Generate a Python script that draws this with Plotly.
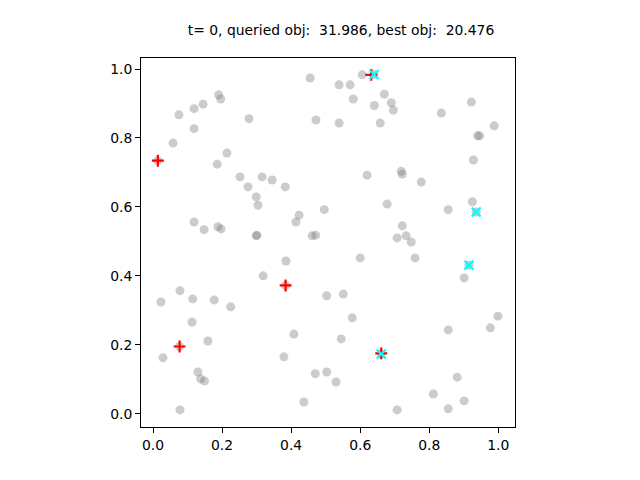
import plotly.graph_objects as go

# Sampled points (gray)
gray_x = [0.455, 0.190, 0.196, 0.145, 0.119, 0.075, 0.278, 0.472, 0.119, 0.058,
          0.214, 0.014, 0.186, 0.252, 0.316, 0.345, 0.275, 0.383, 0.299, 0.304,
          0.496, 0.423, 0.414, 0.119, 0.148, 0.188, 0.197, 0.299, 0.301, 0.461,
          0.471, 0.606, 0.640, 0.539, 0.571, 0.670, 0.580, 0.641, 0.690, 0.696,
          0.922, 0.835, 0.539, 0.658, 0.988, 0.940, 0.946, 0.928, 0.620, 0.719,
          0.722, 0.777, 0.925, 0.936, 0.678, 0.855, 0.722, 0.707, 0.733, 0.748,
          0.385, 0.319, 0.384, 0.078, 0.023, 0.115, 0.177, 0.225, 0.503, 0.113,
          0.408, 0.159, 0.077, 0.029, 0.379, 0.130, 0.138, 0.149, 0.470, 0.503,
          0.437, 0.078, 0.600, 0.759, 0.915, 0.901, 0.551, 0.577, 0.999, 0.977,
          0.855, 0.545, 0.661, 0.530, 0.881, 0.812, 0.901, 0.707, 0.855]
gray_y = [0.974, 0.925, 0.913, 0.898, 0.885, 0.867, 0.856, 0.852, 0.827, 0.785,
          0.756, 0.734, 0.724, 0.687, 0.687, 0.678, 0.658, 0.658, 0.629, 0.605,
          0.592, 0.576, 0.556, 0.556, 0.534, 0.542, 0.536, 0.516, 0.518, 0.516,
          0.518, 0.983, 0.984, 0.954, 0.954, 0.927, 0.913, 0.894, 0.902, 0.881,
          0.904, 0.872, 0.843, 0.843, 0.835, 0.806, 0.806, 0.736, 0.692, 0.703,
          0.695, 0.672, 0.615, 0.585, 0.608, 0.592, 0.545, 0.510, 0.516, 0.498,
          0.443, 0.400, 0.372, 0.357, 0.324, 0.333, 0.330, 0.310, 0.342, 0.266,
          0.231, 0.211, 0.195, 0.162, 0.165, 0.121, 0.101, 0.095, 0.116, 0.121,
          0.034, 0.011, 0.452, 0.452, 0.431, 0.394, 0.347, 0.278, 0.283, 0.249,
          0.243, 0.217, 0.173, 0.092, 0.106, 0.057, 0.037, 0.011, 0.014]

# Queried points (red +)
query_x = [0.014, 0.384, 0.077, 0.632, 0.661]
query_y = [0.734, 0.372, 0.195, 0.983, 0.175]

# Best points (cyan x)
best_x = [0.640, 0.936, 0.915, 0.661]
best_y = [0.984, 0.585, 0.431, 0.173]

title_text = "t= 0, queried obj:  31.986, best obj:  20.476"
tick_vals = [0.0, 0.2, 0.4, 0.6, 0.8, 1.0]
tick_text = ["0.0", "0.2", "0.4", "0.6", "0.8", "1.0"]

fig = go.Figure()
fig.add_trace(go.Scatter(x=gray_x, y=gray_y, mode="markers",
                         marker=dict(size=9, color="gray", opacity=0.4, line=dict(width=0)),
                         hoverinfo="skip"))
fig.add_trace(go.Scatter(x=query_x, y=query_y, mode="markers",
                         marker=dict(symbol="cross-thin", size=8.5, color="red",
                                     line=dict(width=2.2, color="red"))))
fig.add_trace(go.Scatter(x=best_x, y=best_y, mode="markers",
                         marker=dict(symbol="x-thin", size=9, color="cyan",
                                     line=dict(width=2.2, color="#00ffff"))))

axis_common = dict(
    showgrid=False, zeroline=False, showline=True, linecolor="black", linewidth=1,
    mirror=True, ticks="outside", ticklen=5, tickwidth=1, tickcolor="black",
    tickvals=tick_vals, ticktext=tick_text,
    tickfont=dict(family="DejaVu Sans", size=13.9, color="black"),
)
fig.update_xaxes(range=[-0.0348, 1.0484], **axis_common)
fig.update_yaxes(range=[-0.0386, 1.0319], **axis_common)

fig.update_layout(
    width=640, height=480,
    showlegend=False,
    plot_bgcolor="white", paper_bgcolor="white",
    margin=dict(l=133, r=133, t=50, b=61, pad=0),
    font=dict(family="DejaVu Sans", size=13.9, color="black"),
    title=dict(text=title_text, x=333 / 640, xref="container",
               xanchor="center", y=1 - 22 / 480, yanchor="middle",
               font=dict(family="DejaVu Sans", size=13.9, color="black")),
)

fig.write_html("out.html")
